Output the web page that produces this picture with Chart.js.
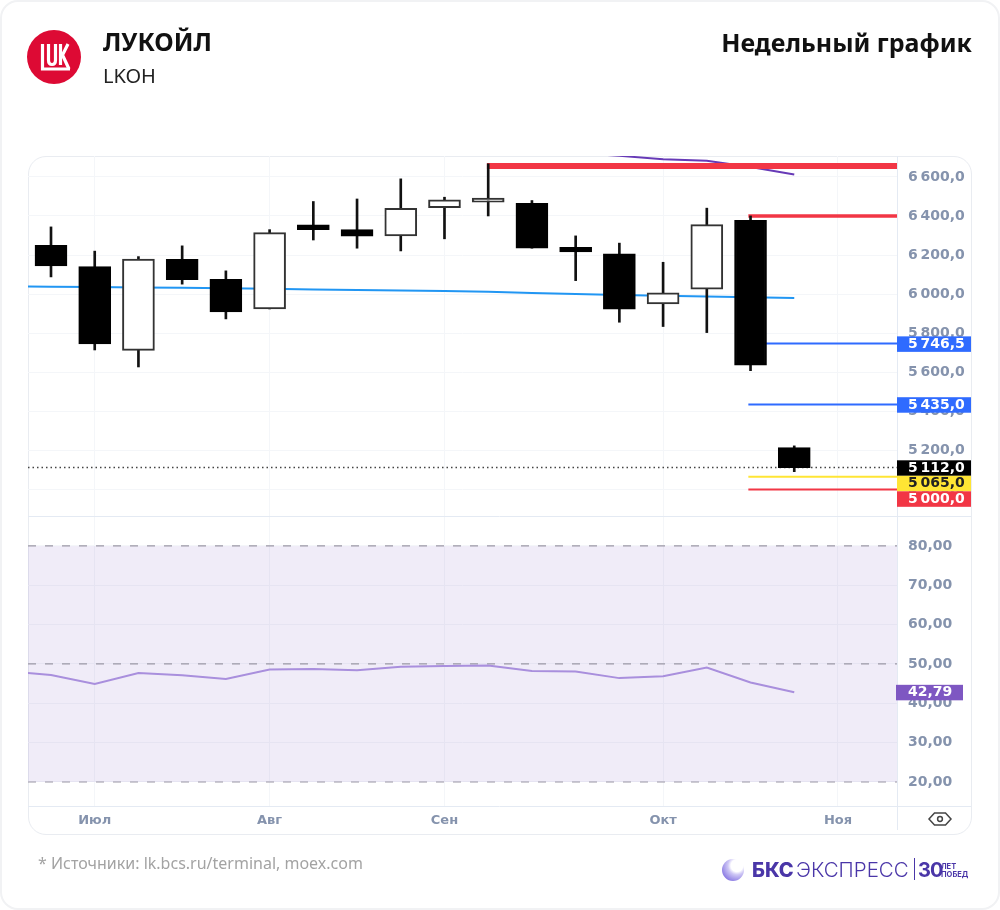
<!DOCTYPE html>
<html lang="ru">
<head>
<meta charset="utf-8">
<title>ЛУКОЙЛ</title>
<script src="https://cdn.jsdelivr.net/npm/chart.js@4/dist/chart.umd.min.js"></script>
<style>
  html, body { margin: 0; padding: 0; background: #fff; }
  #page { position: relative; width: 1000px; height: 910px; overflow: hidden; font-family: "Noto Sans", sans-serif; }
  #frame { position: absolute; left: 0; top: 0; width: 996px; height: 906px; border: 2px solid #f1f2f4; border-radius: 18px; }
  #card { position: absolute; left: 28px; top: 156px; width: 942px; height: 677px; border: 1px solid #e9ecf1; border-radius: 18px; }
  canvas { position: absolute; left: 0; top: 0; }
  .txt { position: absolute; white-space: nowrap; line-height: 1; }
  #name { left: 103px; top: 29px; font-size: 25px; font-weight: 700; color: #111; }
  #ticker { left: 103px; top: 66px; font-size: 20px; color: #222; }
  #period { right: 28px; top: 30px; font-size: 25px; font-weight: 700; color: #111; }
  #source { left: 38px; top: 855px; font-size: 16px; color: #a3a3a3; }
  .bks { color: #4a36a8; font-family: Inter, sans-serif; }
  #bks1 { left: 752px; top: 860px; font-size: 20px; font-weight: 800; }
  #bks2 { left: 796px; top: 860px; font-size: 20.5px; font-weight: 300; }
  #bks3 { left: 918px; top: 860px; font-size: 20px; font-weight: 700; letter-spacing: -1px; }
  #bks4 { left: 941px; top: 863px; font-size: 7.5px; font-weight: 700; line-height: 8px; }
  #bar { position: absolute; left: 914px; top: 858px; width: 1px; height: 22px; background: #4a36a8; }
  #sphere { position: absolute; left: 722px; top: 859px; width: 22px; height: 22px; border-radius: 50%;
    background: radial-gradient(circle at 68% 30%, #fff 0 28%, #cfc8f5 42%, #7d6be0 85%); }
</style>
</head>
<body>
<div id="page">
  <div id="frame"></div>
  <div id="card"></div>
  <canvas id="chart" width="1000" height="910"></canvas>

  <svg style="position:absolute;left:27px;top:30px" width="54" height="54" viewBox="27 30 54 54">
    <circle cx="54" cy="57" r="27" fill="#dd0a34"/>
    <g fill="none" stroke="#fff" stroke-width="3.2">
      <path d="M42.5 44V69H70"/>
      <path d="M48.5 44V60Q48.5 64.5 52 64.5Q55.5 64.5 55.5 60V44"/>
      <path d="M60.5 44V65M68 44L62.5 55L69 69"/>
    </g>
  </svg>
  <div class="txt" id="name">ЛУКОЙЛ</div>
  <div class="txt" id="ticker">LKOH</div>
  <div class="txt" id="period">Недельный график</div>

  <svg style="position:absolute;left:927px;top:811px" width="26" height="16" viewBox="0 0 26 16">
    <path d="M2 8L7.5 2H18.5L24 8L18.5 14H7.5Z" fill="none" stroke="#444" stroke-width="1.5"/>
    <circle cx="13" cy="8" r="2.4" fill="none" stroke="#444" stroke-width="1.5"/>
  </svg>

  <div class="txt" id="source">* Источники: lk.bcs.ru/terminal, moex.com</div>
  <div id="sphere"></div>
  <div class="txt bks" id="bks1">БКС</div>
  <div class="txt bks" id="bks2">ЭКСПРЕСС</div>
  <div id="bar"></div>
  <div class="txt bks" id="bks3">30</div>
  <div class="txt bks" id="bks4">ЛЕТ<br>ПОБЕД</div>
</div>

<script>
// Weekly candles, index 0 is the first visible week
const opens  = [6250, 6141, 5712, 6178, 6076, 5924, 6354, 6330, 6298, 6443, 6470, 6465, 6240, 6206, 5950, 6025, 6378, 5214];
const closes = [6144, 5745, 6179, 6074, 5909, 6315, 6330, 6296, 6439, 6482, 6491, 6235, 6216, 5923, 6006, 6356, 5636, 5112];
const highs  = [6344, 6220, 6192, 6247, 6119, 6330, 6474, 6487, 6590, 6496, 6667, 6479, 6298, 6261, 6163, 6440, 6400, 5223];
const lows   = [6088, 5714, 5627, 6051, 5873, 5924, 6277, 6235, 6221, 6283, 6400, 6235, 6069, 5856, 5834, 5803, 5608, 5091];

// Moving averages (first value sits one week before the window)
const maBlue   = [6040, 6038, 6036, 6034, 6032, 6030, 6027, 6024, 6021, 6019, 6016, 6012, 6006, 6001, 5996, 5992, 5988, 5984, 5980];
const maPurple = [6723, 6708, 6690, 6683, 6651, 6612];
const maPurpleStart = 12;

// RSI (first value sits one week before the window)
const rsi = [48.1, 47.2, 44.9, 47.7, 47.1, 46.2, 48.6, 48.7, 48.4, 49.3, 49.5, 49.6, 48.2, 48.1, 46.4, 46.9, 49.1, 45.3, 42.79];
const rsiBandHigh = 80;
const rsiBandMid = 50;
const rsiBandLow = 20;

// Horizontal price levels and where they begin on the week axis
const lastClose = 5112;
const levelResistHigh = 6656;
const levelResistLow = 6400;
const levelMid = 5746.5;
const levelLow = 5435;
const levelYellow = 5065;
const levelRed = 5000;
const levelResistHighStart = 9.97;
const levelsStart = 15.95;

// Time axis
const monthIndex = [1, 5, 9, 14, 18];
const monthLabels = ['Июл', 'Авг', 'Сен', 'Окт', 'Ноя'];

// Visible ranges
const X_MIN = -0.526, X_MAX = 19.35;
const PRICE_MIN = 4864, PRICE_MAX = 6707;
const RSI_MIN = 13.9, RSI_MAX = 87.6;

const AXIS_COLOR = '#8593ad';
const GRID_COLOR = '#f4f6f9';
const RULE_COLOR = '#e4eaf3';
const DASH_COLOR = '#9b98a5';
const FONT = '"DejaVu Sans", sans-serif';

const formatPrice = (v) => {
  const [whole, frac] = v.toFixed(1).split('.');
  return whole.replace(/\B(?=(\d{3})+$)/g, '\u2009') + ',' + frac;
};
const formatRsi = (v) => v.toFixed(2).replace('.', ',');

const weeks = opens.map((_, i) => i);
const series = (values, start) => values.map((y, i) => ({ x: start + i, y }));

function level(value, from, color, width, axis = 'price', extra = {}) {
  return {
    type: 'line',
    data: [{ x: from, y: value }, { x: X_MAX, y: value }],
    yAxisID: axis,
    borderColor: color,
    borderWidth: width,
    pointRadius: 0,
    order: 5,
    ...extra,
  };
}

// Value tags on the right axis, pushed down when they would overlap
const priceTags = [
  { value: levelMid, bg: '#2f6bff', fg: '#fff' },
  { value: levelLow, bg: '#2f6bff', fg: '#fff' },
  { value: lastClose, bg: '#000', fg: '#fff' },
  { value: levelYellow, bg: '#ffe534', fg: '#222' },
  { value: levelRed, bg: '#f23645', fg: '#fff' },
];

const panePlugin = {
  id: 'panes',
  afterDatasetsDraw(chart) {
    const { ctx, chartArea: area, scales } = chart;
    ctx.save();
    ctx.strokeStyle = RULE_COLOR;
    ctx.lineWidth = 1;
    ctx.beginPath();
    ctx.moveTo(area.left, scales.price.bottom + 0.5);
    ctx.lineTo(scales.price.right, scales.price.bottom + 0.5);
    ctx.moveTo(area.left, area.bottom + 0.5);
    ctx.lineTo(scales.price.right, area.bottom + 0.5);
    ctx.moveTo(area.right + 0.5, area.top);
    ctx.lineTo(area.right + 0.5, area.bottom + 24);
    ctx.stroke();
    ctx.restore();
  },
  afterDraw(chart) {
    const { ctx, chartArea: area, scales } = chart;
    const h = 15.5;
    ctx.save();
    ctx.font = 'bold 14px ' + FONT;
    ctx.textBaseline = 'middle';
    let prevBottom = -Infinity;
    priceTags.forEach((tag) => {
      const y = Math.max(scales.price.getPixelForValue(tag.value) - h / 2 + 0.5, prevBottom);
      prevBottom = y + h;
      ctx.fillStyle = tag.bg;
      ctx.fillRect(area.right, y, 74, h);
      ctx.fillStyle = tag.fg;
      ctx.fillText(formatPrice(tag.value), area.right + 11, y + h / 2);
    });
    const rsiLast = rsi[rsi.length - 1];
    const y = scales.rsi.getPixelForValue(rsiLast);
    ctx.fillStyle = '#7e57c2';
    ctx.fillRect(area.right - 1, y - 7.5, 67, 15.5);
    ctx.fillStyle = '#fff';
    ctx.fillText(formatRsi(rsiLast), area.right + 11, y);
    ctx.restore();
  },
};

new Chart(document.getElementById('chart'), {
  data: {
    datasets: [
      // RSI band and its dashed limits
      level(rsiBandHigh, X_MIN, DASH_COLOR, 1.2, 'rsi', {
        borderDash: [8, 9],
        fill: { value: rsiBandLow },
        backgroundColor: 'rgba(126, 87, 194, 0.115)',
        order: 8,
      }),
      level(rsiBandMid, X_MIN, DASH_COLOR, 1.2, 'rsi', { borderDash: [8, 9] }),
      level(rsiBandLow, X_MIN, DASH_COLOR, 1.2, 'rsi', { borderDash: [8, 9] }),
      {
        type: 'line',
        data: series(rsi, -1),
        yAxisID: 'rsi',
        borderColor: '#a98fdd',
        borderWidth: 2,
        pointRadius: 0,
        order: 4,
      },
      // Price levels
      level(levelResistHigh, levelResistHighStart, '#f23645', 6),
      level(levelResistLow, levelsStart, '#f23645', 3.5),
      level(levelMid, levelsStart, '#2f6bff', 2),
      level(levelLow, levelsStart, '#2f6bff', 2),
      level(levelYellow, levelsStart, '#ffe534', 2),
      level(levelRed, levelsStart, '#f23645', 2),
      level(lastClose, X_MIN, '#444', 1.5, 'price', { borderDash: [1.5, 3] }),
      // Moving averages, the purple one runs under the red level
      {
        type: 'line',
        data: series(maBlue, -1),
        yAxisID: 'price',
        borderColor: '#2196f3',
        borderWidth: 2,
        pointRadius: 0,
        order: 4,
      },
      {
        type: 'line',
        data: series(maPurple, maPurpleStart),
        yAxisID: 'price',
        borderColor: '#673ab7',
        borderWidth: 2,
        pointRadius: 0,
        order: 6,
      },
      // Wicks, then bodies on top of them
      {
        type: 'bar',
        data: weeks.map((i) => ({ x: i, y: [lows[i], highs[i]] })),
        yAxisID: 'price',
        backgroundColor: '#111',
        barThickness: 2,
        grouped: false,
        order: 2,
      },
      {
        type: 'bar',
        data: weeks.map((i) => ({ x: i, y: [opens[i], closes[i]] })),
        yAxisID: 'price',
        backgroundColor: weeks.map((i) => (closes[i] >= opens[i] ? '#fff' : '#000')),
        borderColor: weeks.map((i) => (closes[i] >= opens[i] ? '#333' : '#000')),
        borderWidth: 2,
        borderSkipped: false,
        barThickness: 32,
        grouped: false,
        order: 1,
      },
    ],
  },
  options: {
    responsive: false,
    animation: false,
    events: [],
    layout: { padding: { left: 28, right: 29, top: 156, bottom: 76 } },
    plugins: { legend: { display: false }, title: { display: false }, tooltip: { enabled: false } },
    scales: {
      x: {
        type: 'linear',
        offset: false,
        min: X_MIN,
        max: X_MAX,
        afterBuildTicks: (scale) => { scale.ticks = monthIndex.map((value) => ({ value })); },
        afterFit: (scale) => { scale.height = 28; },
        grid: { color: GRID_COLOR, drawTicks: false, offset: false },
        border: { display: false },
        ticks: {
          callback: (v) => monthLabels[monthIndex.indexOf(v)],
          autoSkip: false,
          maxRotation: 0,
          padding: 7,
          color: AXIS_COLOR,
          font: { family: FONT, size: 13, weight: 'bold' },
        },
      },
      price: {
        type: 'linear',
        position: 'right',
        stack: 'panes',
        stackWeight: 360,
        min: PRICE_MIN,
        max: PRICE_MAX,
        afterFit: (scale) => { scale.width = 74; },
        grid: { color: GRID_COLOR, drawTicks: false },
        border: { display: false },
        ticks: {
          stepSize: 200,
          includeBounds: false,
          autoSkip: false,
          callback: formatPrice,
          crossAlign: 'near',
          padding: 11,
          color: AXIS_COLOR,
          font: { family: FONT, size: 14, weight: 'bold' },
        },
      },
      rsi: {
        type: 'linear',
        position: 'right',
        stack: 'panes',
        stackWeight: 290,
        min: RSI_MIN,
        max: RSI_MAX,
        afterFit: (scale) => { scale.width = 74; },
        grid: { color: GRID_COLOR, drawTicks: false },
        border: { display: false },
        ticks: {
          stepSize: 10,
          includeBounds: false,
          autoSkip: false,
          callback: formatRsi,
          crossAlign: 'near',
          padding: 11,
          color: AXIS_COLOR,
          font: { family: FONT, size: 14, weight: 'bold' },
        },
      },
    },
  },
  plugins: [panePlugin],
});
</script>
</body>
</html>
